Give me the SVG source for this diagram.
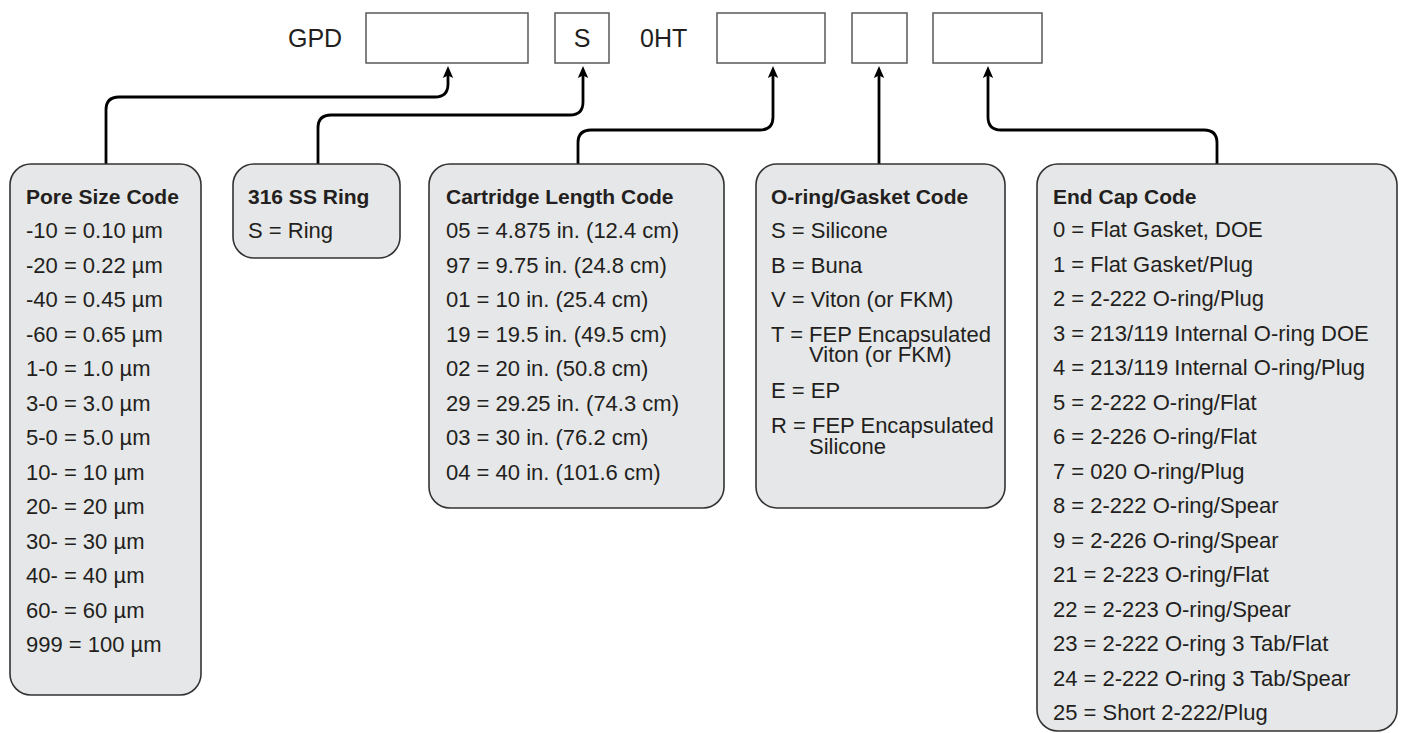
<svg xmlns="http://www.w3.org/2000/svg" width="1401" height="733" viewBox="0 0 1401 733">
<style>
text{font-family:"Liberation Sans",Arial,sans-serif;fill:#231f20}
.t{font-size:22px}
.h{font-size:21px;font-weight:bold}
.top{font-size:25px}
.slot{fill:#fff;stroke:#58595b;stroke-width:1.5}
.node{fill:#e6e7e8;stroke:#333;stroke-width:1.6}
.conn{fill:none;stroke:#000;stroke-width:2.8}
</style>
<defs>
<marker id="ah" markerUnits="userSpaceOnUse" markerWidth="12" markerHeight="12" viewBox="0 0 12 12" refX="3" refY="6" orient="auto">
<path d="M0,0.8 L12,6 L0,11.2 L2.5,6 z" fill="#000"/>
</marker>
</defs>
<g id="header">
<text class="top" x="288" y="47">GPD</text>
<rect class="slot" x="366" y="13" width="162" height="50"/>
<rect class="slot" x="555" y="13" width="54" height="50"/>
<text class="top" x="582" y="47" text-anchor="middle">S</text>
<text class="top" x="640" y="47">0HT</text>
<rect class="slot" x="717" y="13" width="108" height="50"/>
<rect class="slot" x="852" y="13" width="55" height="50"/>
<rect class="slot" x="933" y="13" width="109" height="50"/>
</g>
<g id="connectors">
<path class="conn" marker-end="url(#ah)" d="M106,164 V110 Q106,97 119,97 H435 Q448,97 448,84 V75"/>
<path class="conn" marker-end="url(#ah)" d="M318,164 V128 Q318,115 331,115 H570 Q583,115 583,102 V75"/>
<path class="conn" marker-end="url(#ah)" d="M578,164 V143 Q578,130 591,130 H760 Q773,130 773,117 V75"/>
<path class="conn" marker-end="url(#ah)" d="M879,164 V75"/>
<path class="conn" marker-end="url(#ah)" d="M1217,164 V143 Q1217,130 1204,130 H1001 Q988,130 988,117 V75"/>
</g>
<g id="pore">
<rect class="node" x="10" y="164" width="191" height="531" rx="21"/>
<text class="h" x="26" y="204">Pore Size Code</text>
<text class="t" x="26" y="238">-10 = 0.10 µm</text>
<text class="t" x="26" y="272.5">-20 = 0.22 µm</text>
<text class="t" x="26" y="307">-40 = 0.45 µm</text>
<text class="t" x="26" y="341.5">-60 = 0.65 µm</text>
<text class="t" x="26" y="376">1-0 = 1.0 µm</text>
<text class="t" x="26" y="410.5">3-0 = 3.0 µm</text>
<text class="t" x="26" y="445">5-0 = 5.0 µm</text>
<text class="t" x="26" y="479.5">10- = 10 µm</text>
<text class="t" x="26" y="514">20- = 20 µm</text>
<text class="t" x="26" y="548.5">30- = 30 µm</text>
<text class="t" x="26" y="583">40- = 40 µm</text>
<text class="t" x="26" y="617.5">60- = 60 µm</text>
<text class="t" x="26" y="652">999 = 100 µm</text>
</g>
<g id="ring">
<rect class="node" x="233" y="164" width="167" height="94" rx="21"/>
<text class="h" x="248" y="204">316 SS Ring</text>
<text class="t" x="248" y="238">S = Ring</text>
</g>
<g id="length">
<rect class="node" x="429" y="164" width="295" height="344" rx="21"/>
<text class="h" x="446" y="204">Cartridge Length Code</text>
<text class="t" x="446" y="238">05 = 4.875 in. (12.4 cm)</text>
<text class="t" x="446" y="272.5">97 = 9.75 in. (24.8 cm)</text>
<text class="t" x="446" y="307">01 = 10 in. (25.4 cm)</text>
<text class="t" x="446" y="341.5">19 = 19.5 in. (49.5 cm)</text>
<text class="t" x="446" y="376">02 = 20 in. (50.8 cm)</text>
<text class="t" x="446" y="410.5">29 = 29.25 in. (74.3 cm)</text>
<text class="t" x="446" y="445">03 = 30 in. (76.2 cm)</text>
<text class="t" x="446" y="479.5">04 = 40 in. (101.6 cm)</text>
</g>
<g id="oring">
<rect class="node" x="756" y="164" width="249" height="344" rx="21"/>
<text class="h" x="771" y="204">O-ring/Gasket Code</text>
<text class="t" x="771" y="238">S = Silicone</text>
<text class="t" x="771" y="272.5">B = Buna</text>
<text class="t" x="771" y="307">V = Viton (or FKM)</text>
<text class="t" x="771" y="341.5">T = FEP Encapsulated</text>
<text class="t" x="809" y="362">Viton (or FKM)</text>
<text class="t" x="771" y="398">E = EP</text>
<text class="t" x="771" y="433">R = FEP Encapsulated</text>
<text class="t" x="809" y="454">Silicone</text>
</g>
<g id="endcap">
<rect class="node" x="1037" y="164" width="360" height="567" rx="21"/>
<text class="h" x="1053" y="204">End Cap Code</text>
<text class="t" x="1053" y="237">0 = Flat Gasket, DOE</text>
<text class="t" x="1053" y="271.5">1 = Flat Gasket/Plug</text>
<text class="t" x="1053" y="306">2 = 2-222 O-ring/Plug</text>
<text class="t" x="1053" y="340.5">3 = 213/119 Internal O-ring DOE</text>
<text class="t" x="1053" y="375">4 = 213/119 Internal O-ring/Plug</text>
<text class="t" x="1053" y="409.5">5 = 2-222 O-ring/Flat</text>
<text class="t" x="1053" y="444">6 = 2-226 O-ring/Flat</text>
<text class="t" x="1053" y="478.5">7 = 020 O-ring/Plug</text>
<text class="t" x="1053" y="513">8 = 2-222 O-ring/Spear</text>
<text class="t" x="1053" y="547.5">9 = 2-226 O-ring/Spear</text>
<text class="t" x="1053" y="582">21 = 2-223 O-ring/Flat</text>
<text class="t" x="1053" y="616.5">22 = 2-223 O-ring/Spear</text>
<text class="t" x="1053" y="651">23 = 2-222 O-ring 3 Tab/Flat</text>
<text class="t" x="1053" y="685.5">24 = 2-222 O-ring 3 Tab/Spear</text>
<text class="t" x="1053" y="720">25 = Short 2-222/Plug</text>
</g>
</svg>
